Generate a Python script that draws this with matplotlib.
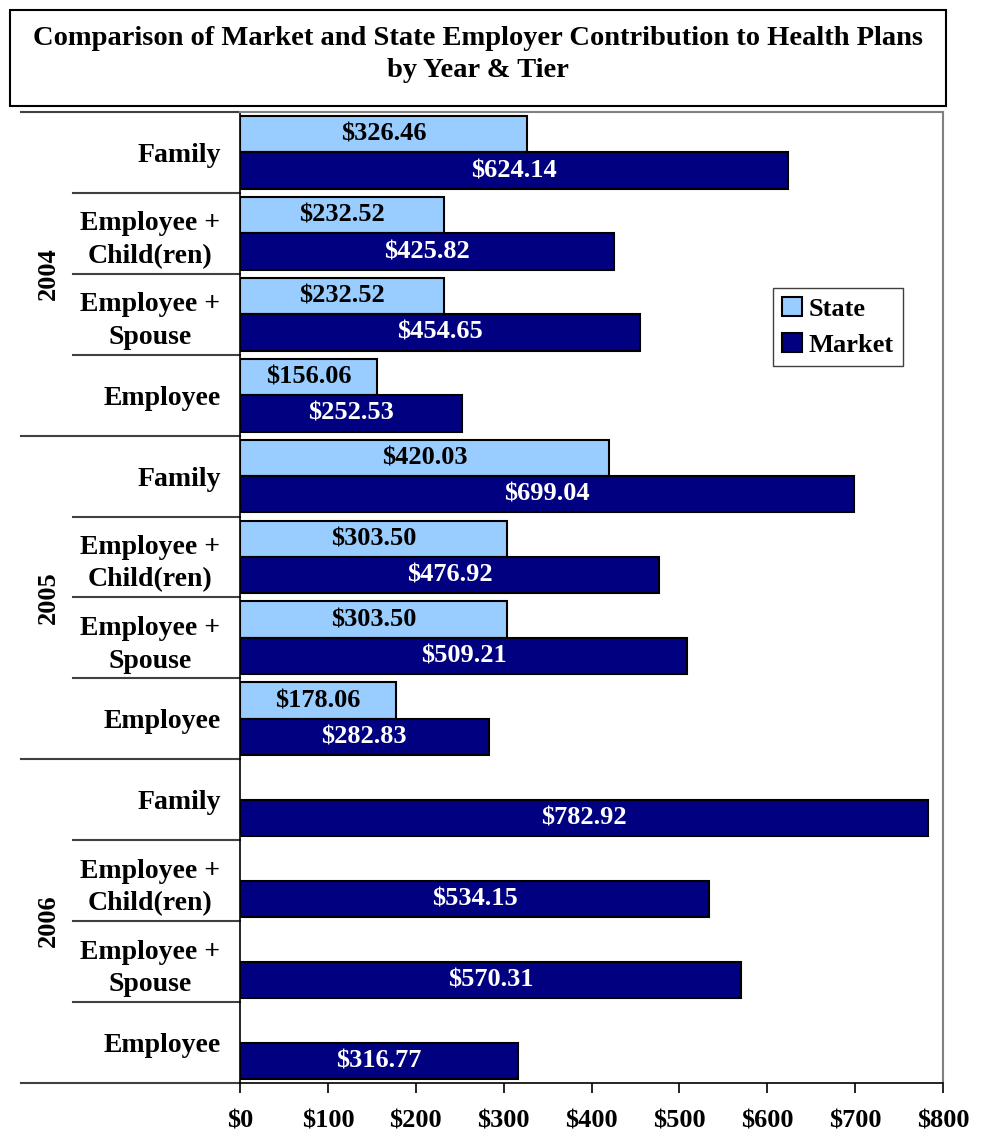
# -*- coding: utf-8 -*-

"""
Horizontal bar chart of employer contribution to health plans,
state against market, grouped by year and coverage tier.
"""

import matplotlib
matplotlib.use('Agg')
import matplotlib.pyplot as plt
from matplotlib.patches import Rectangle
from matplotlib.transforms import blended_transform_factory

plt.rcParams['font.family'] = ['Liberation Serif', 'DejaVu Serif']
plt.rcParams['font.weight'] = 'bold'

YEARS = ['2004', '2005', '2006']
TIERS = ['Family', 'Employee +\nChild(ren)', 'Employee +\nSpouse', 'Employee']

# state contribution per tier, None where there is no value for the year
STATE = {
    '2004': [326.46, 232.52, 232.52, 156.06],
    '2005': [420.03, 303.50, 303.50, 178.06],
    '2006': [None, None, None, None],
}
MARKET = {
    '2004': [624.14, 425.82, 454.65, 252.53],
    '2005': [699.04, 476.92, 509.21, 282.83],
    '2006': [782.92, 534.15, 570.31, 316.77],
}

X_TICKS = [0, 100, 200, 300, 400, 500, 600, 700, 800]

STATE_COLOR = '#99CCFF'
MARKET_COLOR = '#000080'
BAR_H = 0.45
VALUE_SIZE = 19
LABEL_SIZE = 20


def label_bar(ax, y: float, value: float, color: str) -> None:
    """ Put the dollar value in the middle of a bar. """
    ax.text(value / 2, y, '${:.2f}'.format(value),
            ha='center', va='center', color=color,
            fontsize=VALUE_SIZE, fontweight='bold')


fig = plt.figure(figsize=(9.82, 11.34), dpi=100)
ax = fig.add_axes([0.2444, 0.0450, 0.7159, 0.8563])

positions = []
labels = []
row = 0
for year in YEARS:
    for i, tier in enumerate(TIERS):
        state_val = STATE[year][i]
        market_val = MARKET[year][i]
        if state_val is not None:
            ax.barh(row - BAR_H / 2, state_val, height=BAR_H,
                    color=STATE_COLOR, edgecolor='black', linewidth=1.5)
            label_bar(ax, row - BAR_H / 2, state_val, 'black')
        ax.barh(row + BAR_H / 2, market_val, height=BAR_H,
                color=MARKET_COLOR, edgecolor='black', linewidth=1.5)
        label_bar(ax, row + BAR_H / 2, market_val, 'white')
        positions.append(row)
        labels.append(tier)
        row += 1

n_rows = row
ax.set_ylim(n_rows - 0.5, -0.5)
ax.set_xlim(0, X_TICKS[-1])

# tier labels on the left, block right aligned, lines centred
ax.set_yticks(positions)
ax.set_yticklabels(labels, fontsize=LABEL_SIZE, fontweight='bold',
                   multialignment='center', linespacing=1.4)
ax.tick_params(axis='y', length=0, pad=14)

ax.set_xticks(X_TICKS)
ax.set_xticklabels(['${}'.format(t) for t in X_TICKS],
                   fontsize=LABEL_SIZE - 1, fontweight='bold')
ax.tick_params(axis='x', direction='out', length=7, width=1.2, pad=12)

for side in ('top', 'right'):
    ax.spines[side].set_color('#808080')
    ax.spines[side].set_linewidth(1.5)
for side in ('left', 'bottom'):
    ax.spines[side].set_color('black')
    ax.spines[side].set_linewidth(1.2)

# separator lines between tiers and years out in the label area
trans = blended_transform_factory(ax.transAxes, ax.transData)
n_tiers = len(TIERS)
for k in range(n_rows + 1):
    y = k - 0.5
    x0 = -0.311 if k % n_tiers == 0 else -0.238
    ax.plot([x0, 0], [y, y], color='#404040', linewidth=1.5,
            transform=trans, clip_on=False)

# year labels, rotated, centred on each group
for j, year in enumerate(YEARS):
    mid = j * n_tiers + (n_tiers - 1) / 2
    ax.text(-0.273, mid, year, rotation=90, ha='center', va='center',
            fontsize=LABEL_SIZE - 1, fontweight='bold', transform=trans)

handles = [Rectangle((0, 0), 1, 1, facecolor=STATE_COLOR, edgecolor='black',
                     linewidth=1.5),
           Rectangle((0, 0), 1, 1, facecolor=MARKET_COLOR, edgecolor='black',
                     linewidth=1.5)]
leg = ax.legend(handles, ['State', 'Market'], loc='upper left',
                bbox_to_anchor=(0.758, 0.819), fancybox=False, shadow=False,
                framealpha=1, edgecolor='#404040',
                prop={'size': LABEL_SIZE - 1, 'weight': 'bold'},
                handlelength=0.75, handleheight=0.75, handletextpad=0.25,
                borderpad=0.35, labelspacing=0.45, borderaxespad=0)
leg.get_frame().set_linewidth(1.0)

# title in its own framed box
fig.patches.append(Rectangle((0.0102, 0.9065), 0.9532, 0.0847,
                             transform=fig.transFigure, fill=False,
                             edgecolor='black', linewidth=1.5))
fig.text(0.487, 0.9520,
         'Comparison of Market and State Employer Contribution to Health Plans'
         '\nby Year & Tier',
         ha='center', va='center', fontsize=20.5, fontweight='bold',
         linespacing=1.38)

fig.savefig('out.png', dpi=100)
